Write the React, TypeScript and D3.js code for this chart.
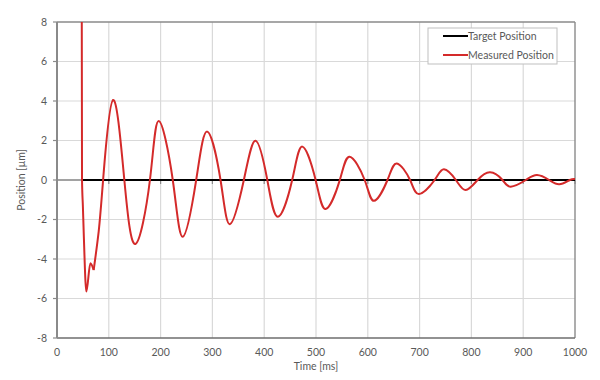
import React from "react";
import * as d3 from "d3";

const W = 600;
const H = 380;
const M = { left: 57, right: 25, top: 22, bottom: 42 };

const xTicks = [0, 100, 200, 300, 400, 500, 600, 700, 800, 900, 1000];
const yTicks = [-8, -6, -4, -2, 0, 2, 4, 6, 8];

const targetTime = [50, 1000];
const targetValue = [0, 0];

// initial transient (drawn monotone)
const earlyTime = [47.6, 48.3, 50, 51.5, 56.7, 64.4, 70.8];
const earlyValue = [12, 0, -1.35, -2.6, -5.65, -4.22, -4.56];

// oscillation (drawn as smooth spline)
const oscTime = [
  70.8, 80.5, 89, 108.3, 130, 151.4, 179.4, 196.4, 223.5, 242.8, 268.7, 290, 315.7, 333.7,
  360.7, 383.3, 406, 426.5, 454, 473.6, 499.3, 518.7, 546, 565, 594, 612, 638, 656, 681.6,
  699, 729, 747, 770, 789, 812, 836, 860, 876, 905, 926.6, 950, 969.7, 990, 1000,
];
const oscValue = [
  -4.56, -2.6, 0, 4.05, 0, -3.24, 0, 2.99, 0, -2.87, 0, 2.45, 0, -2.24, 0, 1.99, 0, -1.86, 0,
  1.69, 0, -1.47, 0, 1.18, 0, -1.05, 0, 0.84, 0, -0.71, 0, 0.54, 0, -0.51, 0, 0.39, 0, -0.34,
  0, 0.25, 0, -0.22, 0, 0.05,
];

const legendLabels = ["Target Position", "Measured Position"];
const legendColors = ["#000000", "#d42a2a"];

const FONT = "Lato, 'Open Sans', sans-serif";

export default function App() {
  const x = d3.scaleLinear().domain([0, 1000]).range([M.left, W - M.right]);
  const y = d3.scaleLinear().domain([-8, 8]).range([H - M.bottom, M.top]);

  const early = earlyTime.map((t, i) => [t, earlyValue[i]] as [number, number]);
  const osc = oscTime.map((t, i) => [t, oscValue[i]] as [number, number]);
  const target = targetTime.map((t, i) => [t, targetValue[i]] as [number, number]);

  const lineMono = d3
    .line<[number, number]>()
    .x((d) => x(d[0]))
    .y((d) => y(d[1]))
    .curve(d3.curveMonotoneX);
  const lineNat = d3
    .line<[number, number]>()
    .x((d) => x(d[0]))
    .y((d) => y(d[1]))
    .curve(d3.curveNatural);
  const lineLin = d3
    .line<[number, number]>()
    .x((d) => x(d[0]))
    .y((d) => y(d[1]));

  const x0 = x(0);
  const x1 = x(1000);
  const yTop = y(8);
  const yBot = y(-8);
  const yZero = y(0);
  const axisGray = "#8a8a8a";
  const gridGray = "#d9d9d9";
  const textGray = "#595959";

  const lx = 428, ly = 28, lw = 129, lh = 36;

  return (
    <svg
      width={W}
      height={H}
      style={{ position: "absolute", left: 0, top: 0, background: "#fff" }}
      fontFamily={FONT}
    >
      <defs>
        <clipPath id="plot">
          <rect x={x0} y={yTop} width={x1 - x0} height={yBot - yTop} />
        </clipPath>
      </defs>
      <rect x={0} y={0} width={W} height={H} fill="#fff" />
      {/* grid */}
      {xTicks.slice(1, -1).map((t) => (
        <line key={"gx" + t} x1={x(t)} x2={x(t)} y1={yTop} y2={yBot} stroke={gridGray} strokeWidth={1.2} />
      ))}
      {yTicks.slice(1, -1).map((v) => (
        <line key={"gy" + v} x1={x0} x2={x1} y1={y(v)} y2={y(v)} stroke={gridGray} strokeWidth={1.2} />
      ))}
      {/* borders */}
      <line x1={x0} x2={x1} y1={yTop} y2={yTop} stroke={axisGray} strokeWidth={1.6} />
      <line x1={x1} x2={x1} y1={yTop} y2={yBot} stroke={axisGray} strokeWidth={1.4} />
      <line x1={x0} x2={x1} y1={yBot} y2={yBot} stroke="#6e6e6e" strokeWidth={1.4} />
      <line x1={x0} x2={x0} y1={yTop} y2={yBot} stroke={axisGray} strokeWidth={2} />
      {/* zero axis */}
      <line x1={x0} x2={x1} y1={yZero} y2={yZero} stroke={axisGray} strokeWidth={1.6} />
      {xTicks.map((t) => (
        <line key={"xt" + t} x1={x(t)} x2={x(t)} y1={yZero} y2={yZero + 4} stroke={axisGray} strokeWidth={1.2} />
      ))}
      {yTicks.map((v) => (
        <line key={"yt" + v} x1={x0 - 4} x2={x0} y1={y(v)} y2={y(v)} stroke={axisGray} strokeWidth={1.2} />
      ))}
      {/* tick labels */}
      {yTicks.map((v) => (
        <text key={"yl" + v} x={x0 - 10} y={y(v)} dy="0.35em" textAnchor="end" fontSize={10.5} fill={textGray}>
          {String(v)}
        </text>
      ))}
      {xTicks.map((t) => (
        <text key={"xl" + t} x={x(t)} y={yBot + 18} textAnchor="middle" fontSize={10.5} fill={textGray}>
          {String(t)}
        </text>
      ))}
      <text x={(x0 + x1) / 2} y={H - 10} textAnchor="middle" fontSize={10.5} fill={textGray}>
        Time [ms]
      </text>
      <text
        transform={`translate(${21},${(yTop + yBot) / 2}) rotate(-90)`}
        textAnchor="middle"
        dy="0.35em"
        fontSize={10.5}
        fill={textGray}
      >
        Position [µm]
      </text>
      {/* series */}
      <g clipPath="url(#plot)">
        <path d={lineLin(target) || ""} fill="none" stroke="#000" strokeWidth={2} />
        <path d={lineMono(early) || ""} fill="none" stroke="#d42a2a" strokeWidth={2} strokeLinejoin="round" />
        <path d={lineNat(osc) || ""} fill="none" stroke="#d42a2a" strokeWidth={2} strokeLinejoin="round" />
      </g>
      {/* legend */}
      <rect x={lx} y={ly} width={lw} height={lh} fill="#fff" stroke="#bfbfbf" strokeWidth={1} />
      {legendLabels.map((lab, i) => (
        <g key={lab}>
          <line x1={lx + 15} x2={lx + 40} y1={ly + 8 + i * 19} y2={ly + 8 + i * 19} stroke={legendColors[i]} strokeWidth={2} />
          <text x={lx + 40} y={ly + 8 + i * 19} dy="0.35em" fontSize={10.5} fill={textGray}>
            {lab}
          </text>
        </g>
      ))}
    </svg>
  );
}
